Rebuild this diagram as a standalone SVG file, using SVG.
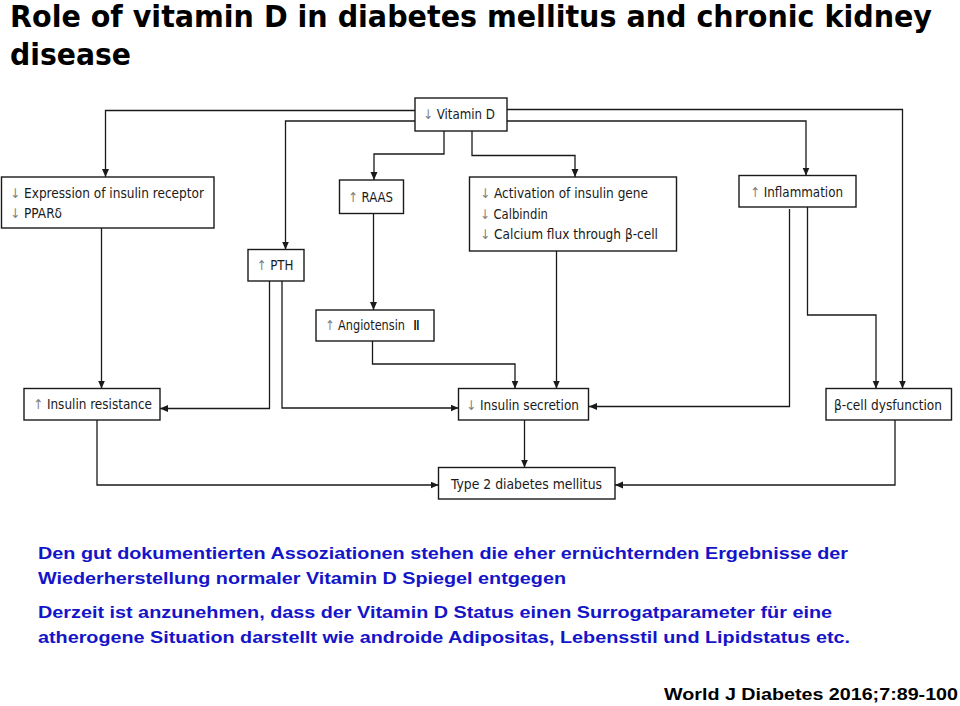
<svg xmlns="http://www.w3.org/2000/svg" width="960" height="706" viewBox="0 0 960 706">
<style>
.box{fill:#fff;stroke:#1a1a1a;stroke-width:1.4}
.lbl{font-family:"DejaVu Sans Condensed","DejaVu Sans",sans-serif;font-size:13.5px;fill:#1a1a1a}
.ar{fill:#808080}
.con{fill:none;stroke:#1a1a1a;stroke-width:1.3}
.title{font-family:"DejaVu Sans Condensed","DejaVu Sans",sans-serif;font-weight:bold;font-size:30px;fill:#000}
.note{font-family:"Liberation Sans",Arial,sans-serif;font-weight:bold;font-size:17px;fill:#1414c8}
.cite{font-family:"Liberation Sans",Arial,sans-serif;font-weight:bold;font-size:17px;fill:#000}
</style>
<defs>
<marker id="ah" markerUnits="userSpaceOnUse" markerWidth="9" markerHeight="8" refX="8" refY="3.5" orient="auto">
<path d="M0,0 L8,3.5 L0,7 z" fill="#1a1a1a"/>
</marker>
</defs>
<rect width="960" height="706" fill="#fff"/>
<g id="title">
<text class="title" x="10" y="27" textLength="922" lengthAdjust="spacingAndGlyphs">Role of vitamin D in diabetes mellitus and chronic kidney</text>
<text class="title" x="10" y="65" textLength="121" lengthAdjust="spacingAndGlyphs">disease</text>
</g>
<g id="connectors">
<path class="con" marker-end="url(#ah)" d="M415,110.5 H105.5 V177"/>
<path class="con" marker-end="url(#ah)" d="M415,121 H285.5 V249.5"/>
<path class="con" marker-end="url(#ah)" d="M444,131 V154 H374 V180"/>
<path class="con" marker-end="url(#ah)" d="M472,131 V155.5 H575 V177"/>
<path class="con" marker-end="url(#ah)" d="M507,121 H806 V175.5"/>
<path class="con" marker-end="url(#ah)" d="M507,109.5 H902.5 V388.5"/>
<path class="con" marker-end="url(#ah)" d="M101.5,228 V388.5"/>
<path class="con" marker-end="url(#ah)" d="M269.5,281 V408.5 H160"/>
<path class="con" marker-end="url(#ah)" d="M282,281 V408 H458.5"/>
<path class="con" marker-end="url(#ah)" d="M373.5,213.5 V310"/>
<path class="con" marker-end="url(#ah)" d="M372.5,341 V364 H515 V388.5"/>
<path class="con" marker-end="url(#ah)" d="M556.5,251 V388.5"/>
<path class="con" marker-end="url(#ah)" d="M789.5,209 V406.5 H589"/>
<path class="con" marker-end="url(#ah)" d="M807.5,207 V315 H876 V388.5"/>
<path class="con" marker-end="url(#ah)" d="M97,420 V485 H438.5"/>
<path class="con" marker-end="url(#ah)" d="M524.5,420 V467.5"/>
<path class="con" marker-end="url(#ah)" d="M895,420 V485 H615"/>
</g>
<g id="vitaminD">
<rect class="box" x="415" y="98" width="92" height="33"/>
<text class="lbl" x="423" y="118.5" textLength="72" lengthAdjust="spacingAndGlyphs"><tspan class="ar">↓</tspan> Vitamin D</text>
</g>
<g id="expression">
<rect class="box" x="1.5" y="177" width="212.5" height="51"/>
<text class="lbl" x="10" y="197.5" textLength="194" lengthAdjust="spacingAndGlyphs"><tspan class="ar">↓</tspan> Expression of insulin receptor</text>
<text class="lbl" x="10" y="218" textLength="52" lengthAdjust="spacingAndGlyphs"><tspan class="ar">↓</tspan> PPARδ</text>
</g>
<g id="pth">
<rect class="box" x="248" y="249.5" width="56" height="31.5"/>
<text class="lbl" x="256.5" y="269.5" textLength="37" lengthAdjust="spacingAndGlyphs"><tspan class="ar">↑</tspan> PTH</text>
</g>
<g id="raas">
<rect class="box" x="339.5" y="180" width="64" height="33.5"/>
<text class="lbl" x="348" y="201.5" textLength="45" lengthAdjust="spacingAndGlyphs"><tspan class="ar">↑</tspan> RAAS</text>
</g>
<g id="activation">
<rect class="box" x="469.5" y="177" width="207" height="74"/>
<text class="lbl" x="480" y="197.5" textLength="168" lengthAdjust="spacingAndGlyphs"><tspan class="ar">↓</tspan> Activation of insulin gene</text>
<text class="lbl" x="480" y="218.5" textLength="68" lengthAdjust="spacingAndGlyphs"><tspan class="ar">↓</tspan> Calbindin</text>
<text class="lbl" x="480" y="239" textLength="178" lengthAdjust="spacingAndGlyphs"><tspan class="ar">↓</tspan> Calcium flux through β-cell</text>
</g>
<g id="inflammation">
<rect class="box" x="739" y="175.5" width="117" height="31.5"/>
<text class="lbl" x="750" y="196.5" textLength="93" lengthAdjust="spacingAndGlyphs"><tspan class="ar">↑</tspan> Inflammation</text>
</g>
<g id="angiotensin">
<rect class="box" x="316" y="310" width="118" height="31"/>
<text class="lbl" x="325" y="329.5" textLength="80" lengthAdjust="spacingAndGlyphs"><tspan class="ar">↑</tspan> Angiotensin</text>
<text x="413" y="329.5" font-family="'Liberation Serif',serif" font-size="14" fill="#000">Ⅱ</text>
</g>
<g id="insulinResistance">
<rect class="box" x="24" y="388.5" width="136" height="31.5"/>
<text class="lbl" x="33" y="408.5" textLength="119" lengthAdjust="spacingAndGlyphs"><tspan class="ar">↑</tspan> Insulin resistance</text>
</g>
<g id="insulinSecretion">
<rect class="box" x="458.5" y="388.5" width="130" height="31.5"/>
<text class="lbl" x="466" y="409.5" textLength="113" lengthAdjust="spacingAndGlyphs"><tspan class="ar">↓</tspan> Insulin secretion</text>
</g>
<g id="betaCell">
<rect class="box" x="826" y="388.5" width="125.5" height="31.5"/>
<text class="lbl" x="834" y="409.5" textLength="108" lengthAdjust="spacingAndGlyphs">β-cell dysfunction</text>
</g>
<g id="type2">
<rect class="box" x="438.5" y="467.5" width="176.5" height="31.5"/>
<text class="lbl" x="451" y="488.5" textLength="151" lengthAdjust="spacingAndGlyphs">Type 2 diabetes mellitus</text>
</g>
<g id="notes">
<text class="note" x="38" y="559" textLength="810" lengthAdjust="spacingAndGlyphs">Den gut dokumentierten Assoziationen stehen die eher ernüchternden Ergebnisse der</text>
<text class="note" x="38" y="584" textLength="528" lengthAdjust="spacingAndGlyphs">Wiederherstellung normaler Vitamin D Spiegel entgegen</text>
<text class="note" x="38" y="618" textLength="794" lengthAdjust="spacingAndGlyphs">Derzeit ist anzunehmen, dass der Vitamin D Status einen Surrogatparameter für eine</text>
<text class="note" x="38" y="643" textLength="812" lengthAdjust="spacingAndGlyphs">atherogene Situation darstellt wie androide Adipositas, Lebensstil und Lipidstatus etc.</text>
<text class="cite" x="664" y="700" textLength="294" lengthAdjust="spacingAndGlyphs">World J Diabetes 2016;7:89-100</text>
</g>
</svg>
